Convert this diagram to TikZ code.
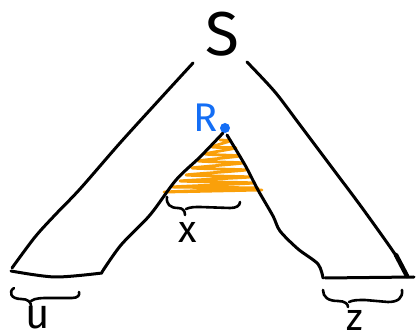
\documentclass[tikz,border=0pt]{standalone}
\usepackage{fontspec}
\newfontfamily\hand{Fira Sans}
\definecolor{penblue}{RGB}{20,110,245}
\definecolor{penorange}{RGB}{250,160,10}
\tikzset{
  pen/.style={line width=3pt, line cap=round, line join=round, black},
  thinpen/.style={line width=2.6pt, line cap=round, line join=round, black},
  scribble/.style={line width=2.8pt, line cap=round, line join=round, penorange},
  lbl/.style={inner sep=0pt, font=\hand}
}
\begin{document}
\begin{tikzpicture}[x=1pt,y=-1pt]
\useasboundingbox (0,0) rectangle (416,334);
% orange scribble
\draw[scribble] plot[smooth, tension=0.35] coordinates {
 (220,140) (230,141) (212,147) (236,148) (205,154) (240,156) (198,161) (243,163)
 (192,168) (246,170) (186,175) (250,177) (180,181) (254,183) (172,187) (258,188)
 (164,192) (262,190)};
% outer triangle
\draw[pen] plot[smooth] coordinates {(193,63) (160,99) (120,143) (80,189) (55,215) (35,237) (12,268)};
\draw[pen] plot[smooth] coordinates {(247,62) (275,92) (300,125) (330,165) (360,205) (388,244) (400,262) (407,276)};
\draw[line width=4.5pt, line cap=round] (396,255) -- (407,276);
% inner
\draw[pen] plot[smooth] coordinates {(223,133) (200,157) (176,180) (150,215) (121,245) (102,272)};
\draw[pen] plot[smooth] coordinates {(227,135) (245,165) (258,190) (273,216) (280,231) (298,249) (318,264) (323,278)};
% bases
\draw[pen] plot[smooth] coordinates {(11,271) (55,277) (102,273)};
\draw[pen] (325,278) -- (414,277);
% braces
\draw[thinpen] (14,288) .. controls (8,292) and (11,299) .. (21,299) .. controls (28,299) and (31,302) .. (31,306);
\draw[thinpen] (31,301) .. controls (35,298) and (42,298) .. (48,298) -- (72,298) .. controls (78,298) and (80,295) .. (79,292);
\draw[thinpen] (167,197) .. controls (166,204) and (170,208) .. (178,208) .. controls (183,208) and (185,211) .. (185,215);
\draw[thinpen] (186,209) .. controls (190,207) and (195,207) .. (200,207) -- (230,208) .. controls (236,208) and (240,206) .. (240,202);
\draw[thinpen] (323,290) .. controls (323,297) and (328,301) .. (338,301) .. controls (345,301) and (348,304) .. (348,307);
\draw[thinpen] (349,302) .. controls (353,300) and (358,300) .. (365,300) -- (388,302) .. controls (398,302) and (403,298) .. (402,290);
% R point
\fill[penblue] (225,128) circle (5pt);
% labels
\node[lbl, font=\hand\fontsize{62}{62}\selectfont] (S) at (222,34) {S};
\node[lbl, text=penblue, font=\hand\fontsize{40}{40}\selectfont] (R) at (206,118) {R};
\node[lbl, anchor=north, font=\hand\fontsize{42}{42}\selectfont] (u) at (38,306) {u};
\node[lbl, font=\hand\fontsize{38}{38}\selectfont] (x) at (188,232) {x};
\node[lbl, anchor=north, font=\hand\fontsize{38}{38}\selectfont] (z) at (355,310) {z};
\end{tikzpicture}
\end{document}
